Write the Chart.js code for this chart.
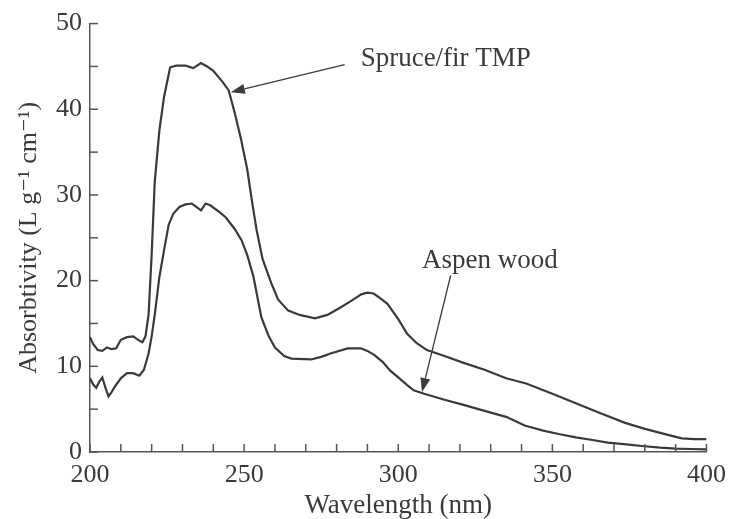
<!DOCTYPE html>
<html>
<head>
<meta charset="utf-8">
<script src="https://cdn.jsdelivr.net/npm/chart.js@4.4.1/dist/chart.umd.min.js"></script>
<style>
  html, body { margin: 0; padding: 0; background: #fff; }
  #grafico-wrap { width: 734px; height: 519px; }
</style>
</head>
<body>
<div id="grafico-wrap"><canvas id="absorbtividadeChart"></canvas></div>
<script>
// Dados (nm, L g-1 cm-1)
const spruceNm = [200, 201, 202.5, 204, 205.5, 207, 208.5, 210, 212, 214, 216, 217, 218, 219, 220, 221, 222.5, 224, 226, 228, 231, 233.5, 236, 238, 240, 243, 245, 247, 249, 251, 252.5, 254, 256, 258.8, 261, 264.3, 268, 273, 277, 281.4, 285, 288, 290, 292, 294, 296.5, 300, 302.9, 306, 309.3, 315, 321.2, 328, 335, 341.5, 350, 357.6, 365, 373.6, 380, 387.5, 392, 396, 400];
const spruceAbs = [13.4, 12.6, 11.9, 11.8, 12.2, 12.0, 12.1, 13.1, 13.4, 13.5, 13.0, 12.8, 13.5, 16.0, 23.0, 31.5, 37.5, 41.4, 44.9, 45.1, 45.1, 44.8, 45.4, 45.0, 44.5, 43.2, 42.2, 39.5, 36.5, 33.0, 29.4, 26.0, 22.5, 19.7, 17.8, 16.5, 16.0, 15.6, 16.0, 16.9, 17.7, 18.4, 18.6, 18.5, 18.0, 17.3, 15.5, 13.8, 12.7, 11.9, 11.2, 10.4, 9.6, 8.6, 8.0, 6.8, 5.7, 4.6, 3.4, 2.7, 2.0, 1.6, 1.5, 1.5];

const aspenNm = [200, 201, 202, 203, 204, 205, 206, 207, 208, 210, 212, 214, 216, 217.5, 219, 220, 221, 222.5, 224, 225.5, 227, 229, 231, 233, 234.5, 236, 237.5, 239, 242, 244, 247, 249.2, 251, 253, 255.6, 258, 260, 263, 265.3, 271.7, 275, 278, 283.6, 287.8, 290, 292.3, 295, 297.4, 300, 302.9, 305, 308.4, 315, 321.2, 328, 335, 341, 347, 352, 357.6, 363, 368, 374, 379, 385, 390, 395, 400];
const aspenAbs = [8.6, 7.9, 7.5, 8.2, 8.7, 7.5, 6.5, 7.0, 7.6, 8.6, 9.2, 9.2, 8.9, 9.6, 11.5, 13.5, 16.0, 20.4, 23.5, 26.5, 27.8, 28.6, 28.9, 29.0, 28.6, 28.2, 29.0, 28.8, 28.0, 27.4, 26.0, 24.7, 23.0, 20.5, 15.7, 13.5, 12.2, 11.2, 10.9, 10.8, 11.1, 11.5, 12.1, 12.1, 11.8, 11.3, 10.5, 9.5, 8.7, 7.8, 7.2, 6.8, 6.1, 5.5, 4.8, 4.1, 3.1, 2.5, 2.1, 1.7, 1.4, 1.1, 0.9, 0.7, 0.5, 0.4, 0.35, 0.3];

const xTicksRotulados = [200, 250, 300, 350, 400];
const yTicksRotulados = [0, 10, 20, 30, 40, 50];

const COR = '#3a3a3a';
const FONTE = '"Liberation Serif", "DejaVu Serif", serif';

// Anotações (posição em unidades dos eixos)
const notas = [
    { texto: 'Spruce/fir TMP', tx: 287.8, ty: 45.9, de: [282.6, 45.2], para: [245.7, 42.0] },
    { texto: 'Aspen wood', tx: 307.7, ty: 22.3, de: [317.0, 20.6], para: [307.7, 7.0] }
];

function paraPontos(xs, ys) {
    return xs.map((x, i) => ({ x: x, y: ys[i] }));
}

// Marcas de escala para dentro da área do gráfico
const ticksInternos = {
    id: 'ticksInternos',
    afterDraw(chart) {
        const { ctx, chartArea, scales } = chart;
        ctx.save();
        ctx.strokeStyle = '#555';
        ctx.lineWidth = 1.5;
        scales.x.ticks.forEach(t => {
            const px = scales.x.getPixelForValue(t.value);
            ctx.beginPath();
            ctx.moveTo(px, chartArea.bottom);
            ctx.lineTo(px, chartArea.bottom - 8);
            ctx.stroke();
        });
        scales.y.ticks.forEach(t => {
            const py = scales.y.getPixelForValue(t.value);
            ctx.beginPath();
            ctx.moveTo(chartArea.left, py);
            ctx.lineTo(chartArea.left + 8, py);
            ctx.stroke();
        });
        ctx.restore();
    }
};

const anotacoes = {
    id: 'anotacoes',
    afterDraw(chart) {
        const { ctx, scales } = chart;
        ctx.save();
        ctx.fillStyle = COR;
        ctx.strokeStyle = COR;
        ctx.font = '27px ' + FONTE;
        ctx.textBaseline = 'middle';
        ctx.textAlign = 'left';
        notas.forEach(n => {
            ctx.fillText(n.texto, scales.x.getPixelForValue(n.tx), scales.y.getPixelForValue(n.ty));

            const x1 = scales.x.getPixelForValue(n.de[0]);
            const y1 = scales.y.getPixelForValue(n.de[1]);
            const x2 = scales.x.getPixelForValue(n.para[0]);
            const y2 = scales.y.getPixelForValue(n.para[1]);
            const ang = Math.atan2(y2 - y1, x2 - x1);
            const comp = 14, larg = 5;
            const bx = x2 - comp * Math.cos(ang);
            const by = y2 - comp * Math.sin(ang);

            ctx.lineWidth = 1.3;
            ctx.beginPath();
            ctx.moveTo(x1, y1);
            ctx.lineTo(bx, by);
            ctx.stroke();

            ctx.beginPath();
            ctx.moveTo(x2, y2);
            ctx.lineTo(bx + larg * Math.sin(ang), by - larg * Math.cos(ang));
            ctx.lineTo(bx - larg * Math.sin(ang), by + larg * Math.cos(ang));
            ctx.closePath();
            ctx.fill();
        });
        ctx.restore();
    }
};

function criarGrafico() {
    const ctx = document.getElementById('absorbtividadeChart').getContext('2d');
    new Chart(ctx, {
        type: 'line',
        data: {
            datasets: [
                { label: 'Spruce/fir TMP', data: paraPontos(spruceNm, spruceAbs) },
                { label: 'Aspen wood', data: paraPontos(aspenNm, aspenAbs) }
            ]
        },
        options: {
            responsive: true,
            maintainAspectRatio: false,
            animation: false,
            layout: { padding: { left: 0, right: 22, top: 23.5, bottom: 0 } },
            elements: {
                line: { borderColor: COR, borderWidth: 2.2, tension: 0, fill: false },
                point: { radius: 0 }
            },
            plugins: {
                legend: { display: false },
                tooltip: { enabled: false }
            },
            scales: {
                x: {
                    type: 'linear',
                    min: 200,
                    max: 400,
                    afterFit: scale => { scale.height = 67; },
                    grid: { drawOnChartArea: false, drawTicks: false },
                    border: { color: '#555', width: 1.5 },
                    ticks: {
                        stepSize: 10,
                        autoSkip: false,
                        maxRotation: 0,
                        padding: 8,
                        color: COR,
                        font: { family: FONTE, size: 26 },
                        callback: v => xTicksRotulados.includes(v) ? String(v) : ''
                    },
                    title: {
                        display: true,
                        text: 'Wavelength (nm)',
                        color: COR,
                        font: { family: FONTE, size: 27, lineHeight: 1 },
                        padding: { top: 0, bottom: 0 }
                    }
                },
                y: {
                    min: 0,
                    max: 50,
                    afterFit: scale => { scale.width = 90; },
                    grid: { drawOnChartArea: false, drawTicks: false },
                    border: { color: '#555', width: 1.5 },
                    ticks: {
                        stepSize: 5,
                        autoSkip: false,
                        padding: 8,
                        color: COR,
                        font: { family: FONTE, size: 26 },
                        callback: v => yTicksRotulados.includes(v) ? String(v) : ''
                    },
                    title: {
                        display: true,
                        text: 'Absorbtivity (L g\u207B\u00B9 cm\u207B\u00B9)',
                        color: COR,
                        font: { family: FONTE, size: 26, lineHeight: 1 },
                        padding: { top: 16, bottom: 0 }
                    }
                }
            }
        },
        plugins: [ticksInternos, anotacoes]
    });
}

document.addEventListener('DOMContentLoaded', criarGrafico);
</script>
</body>
</html>
